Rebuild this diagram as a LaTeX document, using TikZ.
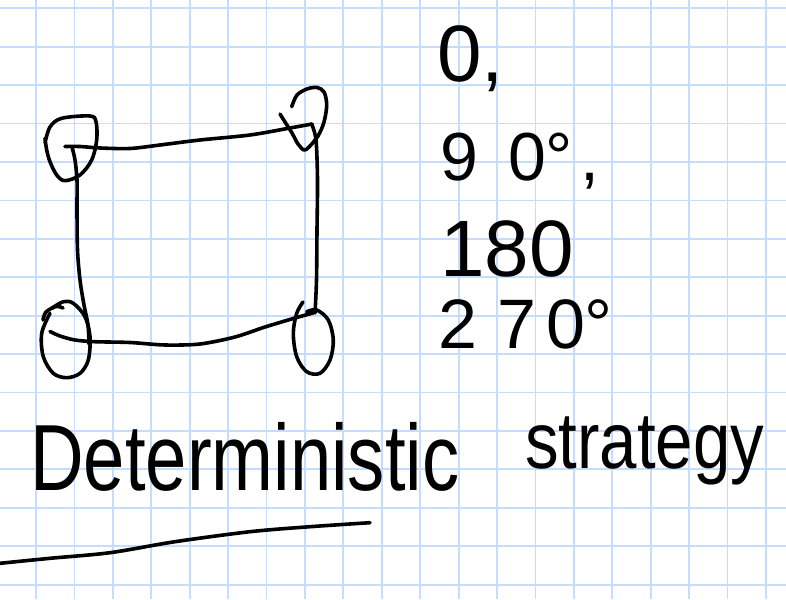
\documentclass[tikz,border=0pt]{standalone}
\usepackage{fontspec}
\setmainfont{Liberation Sans}
\definecolor{gridblue}{RGB}{198,220,252}
\tikzset{
  gridline/.style={draw=gridblue, line width=1.8pt},
  pen/.style={draw=black, line width=3.6pt, line cap=round, line join=round},
  hand/.style={anchor=base west, inner sep=0pt, text=black},
}
\newcommand{\fsz}[1]{\fontsize{#1}{#1}\selectfont}
\begin{document}
\begin{tikzpicture}[x=1pt,y=-1pt]
\useasboundingbox (0,0) rectangle (786,599);
\fill[white] (0,0) rectangle (786,599);
% grid
\foreach \k in {0,...,19} { \draw[gridline] ({36+38.42*\k},0) -- ({36+38.42*\k},599); }
\foreach \k in {0,...,15} { \draw[gridline] (0,{8.3+38.42*\k}) -- (786,{8.3+38.42*\k}); }

% top-left loop
\draw[pen] plot[smooth, tension=0.55] coordinates {(45,143) (50,127) (61.7,118.3) (90,116) (96,121.7) (96.7,140) (91.7,160) (80,175) (65,180.7) (56.7,175) (50,161.7) (46.7,150) (45,138.3)};
% top-right loop
\draw[pen] plot[smooth, tension=0.55] coordinates {(291.7,106.7) (297,95) (307,89) (317,87.5) (324,92) (326.7,105) (324,122) (318,136) (309,147) (304,150) (298,144) (292,133) (285,122) (280,114)};
% bottom-left loop
\draw[pen] plot[smooth, tension=0.55] coordinates {(50,313.3) (41.7,333.3) (43.3,356.7) (53.3,373.3) (66.7,377.7) (80,373.3) (88.3,360) (90,336.7) (85,316.7) (73.3,303.3) (63.3,301.7) (51.7,308.3)};
\draw[pen] plot[smooth, tension=0.55] coordinates {(43,320) (46,312) (56,306.5) (63,308)};
% bottom-right loop
\draw[pen] plot[smooth, tension=0.55] coordinates {(303,302) (296.7,313.3) (293.3,333.3) (296.7,356.7) (306.7,371.7) (320,373.3) (330,360) (333.3,340) (328.3,320) (316.7,310) (306.7,311.7)};

% edges
\draw[pen] plot[smooth, tension=0.5] coordinates {(65,146.5) (80,146.5) (100,148) (130,148.5) (160,145) (200,140) (250,135) (290,128) (312,124)};
\draw[pen] plot[smooth, tension=0.5] coordinates {(311.7,124) (316,140) (317.5,180) (317,230) (316.5,280) (315,313)};
\draw[pen] plot[smooth, tension=0.5] coordinates {(50,331.5) (60,336) (75,340) (95,341.7) (130,342.5) (165,345) (200,344) (235,337) (265,327) (295,318) (313,313)};
\draw[pen] plot[smooth, tension=0.5] coordinates {(72,147) (75,160) (77,180) (77,210) (77.5,250) (80,280) (84,305) (88,325) (89,344)};

% angle list
\node[hand] (a0) at (437,82) {\fsz{80}0,};
\node[hand] (a90) at (440,180) {\fsz{68}9\kern30pt 0°\kern8pt,};
\node[hand] (a180) at (440,276) {\fsz{80}180};
\node[hand] (a270) at (438,348) {\fsz{70}2\kern20pt 7\kern10pt 0°};

% title
\node[hand] (det) at (30,490) {\fsz{94}\scalebox{0.79}[1]{Deterministic}};
\node[hand] (str) at (525,468) {\fsz{80}\scalebox{0.84}[1]{strategy}};

% underline
\draw[pen] plot[smooth, tension=0.5] coordinates {(0,563.3) (50,558.3) (110,552.7) (175,541.7) (250,531.7) (310,526.7) (370,522.7)};
\end{tikzpicture}
\end{document}
